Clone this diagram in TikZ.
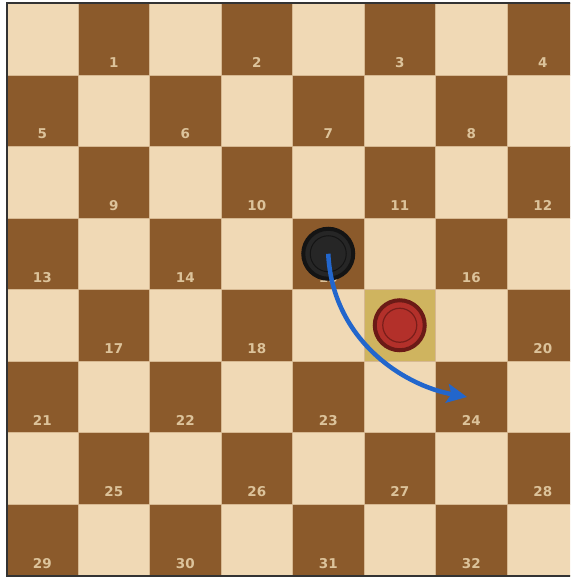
\documentclass[tikz,border=0pt]{standalone}
\usepackage{fontspec}
\setsansfont{DejaVu Sans}
\usetikzlibrary{arrows.meta}
\definecolor{lightsq}{HTML}{F0D9B5}
\definecolor{darksq}{HTML}{8B5A2B}
\definecolor{numtext}{HTML}{DCC39B}
\definecolor{hilite}{HTML}{CFB45F}
\definecolor{movearrow}{HTML}{2266CC}
\definecolor{redfill}{HTML}{B3302A}
\definecolor{redrim}{HTML}{6B1A16}

\begin{document}
\begin{tikzpicture}[x=1pt, y=-1pt, >=Stealth,
  square/.style={fill=#1, draw=lightsq!75!darksq, line width=0.5pt},
  sqnum/.style={anchor=base, text=numtext, inner sep=0pt,
    font=\sffamily\bfseries\fontsize{13.5}{13.5}\selectfont},
  piece/.style={circle, line width=4pt, minimum size=50pt, inner sep=0pt},
  blackpiece/.style={piece, draw=black!92, fill=black!85,
    path picture={\draw[black!92, line width=1pt] (path picture bounding box.center) circle (18pt);}},
  redpiece/.style={piece, draw=redrim, fill=redfill,
    path picture={\draw[redrim!80!redfill, line width=1.2pt] (path picture bounding box.center) circle (17pt);}}]

  \useasboundingbox (0,0) rectangle (570,577);
  \fill[white] (0,0) rectangle (570,577);
  \clip (0,0) rectangle (570,577);

  % board squares and numbers on the dark ones
  \foreach \r in {0,...,7}
    \foreach \c in {0,...,7} {
      \pgfmathtruncatemacro\isdark{mod(\r+\c,2)}
      \pgfmathsetmacro\sx{6.5+\c*71.5}
      \pgfmathsetmacro\sy{3.5+\r*71.5}
      \ifnum\isdark=1
        \pgfmathtruncatemacro\sqno{\r*4+floor(\c/2)+1}
        \draw[square=darksq] (\sx,\sy) rectangle ++(71.5,71.5);
        \node[sqnum] (sq\sqno) at (\sx+35.75,\sy+64) {\sqno};
      \else
        \draw[square=lightsq] (\sx,\sy) rectangle ++(71.5,71.5);
      \fi
    }

  % captured square
  \draw[square=hilite] (364,289.5) rectangle ++(71.5,71.5);

  \draw[black!80, line width=2pt] (6.5,3.5) rectangle (578.5,575.5);

  % pieces
  \node[blackpiece] (black) at (328.25,253.75) {};
  \node[redpiece] (red) at (399.75,325.25) {};

  % jump move
  \coordinate (target) at (467,397);
  \draw[movearrow, line width=4.5pt, -{Stealth[length=20pt, width=19pt, inset=4pt]}]
    (black.center) .. controls +(4,85) and +(-65,-12) .. (target);
\end{tikzpicture}
\end{document}
